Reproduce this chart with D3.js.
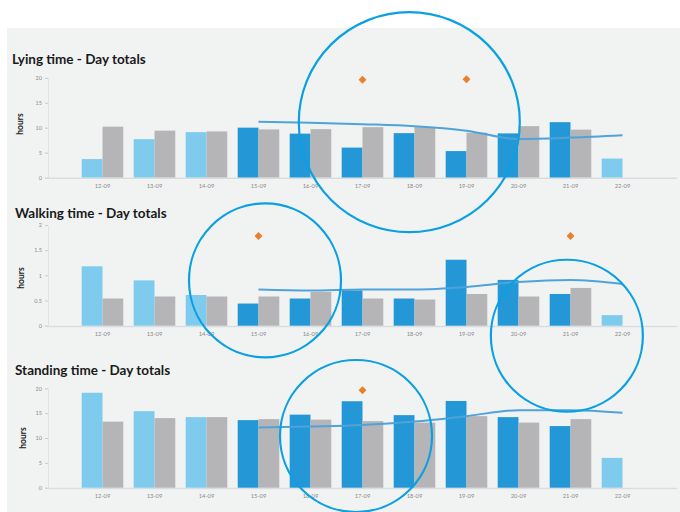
<!DOCTYPE html>
<html>
<head>
<meta charset="utf-8">
<script src="https://cdn.jsdelivr.net/npm/d3@7"></script>
<style>
  html, body { margin: 0; padding: 0; background: #ffffff; }
  svg { display: block; }
</style>
</head>
<body>
<div id="chart"></div>
<script>
// ---------- data ----------
const categories = ["12-09","13-09","14-09","15-09","16-09","17-09","18-09","19-09","20-09","21-09","22-09"];
const dayShade = ["light","light","light","dark","dark","dark","dark","dark","dark","dark","light"];
const trendCategories = ["15-09","16-09","17-09","18-09","19-09","20-09","21-09","22-09"];

const lyingDay   = [3.7, 7.7, 9.1, 10.0, 8.8, 6.0, 8.9, 5.3, 8.85, 11.1, 3.8];
const lyingRef   = [10.2, 9.4, 9.25, 9.65, 9.7, 10.1, 10.1, 9.0, 10.3, 9.6, null];
const lyingTrend = [11.2, 11.0, 10.7, 10.3, 9.4, 7.7, 8.0, 8.5];
const lyingAlertCats = ["17-09","19-09"];
const lyingAlertVals = [19.6, 19.7];
const lyingTicks = [0, 5, 10, 15, 20];

const walkingDay   = [1.18, 0.90, 0.61, 0.44, 0.54, 0.70, 0.54, 1.31, 0.91, 0.63, 0.21];
const walkingRef   = [0.54, 0.58, 0.58, 0.58, 0.67, 0.54, 0.52, 0.63, 0.58, 0.75, null];
const walkingTrend = [0.72, 0.70, 0.72, 0.72, 0.77, 0.87, 0.91, 0.83];
const walkingAlertCats = ["15-09","21-09"];
const walkingAlertVals = [1.78, 1.78];
const walkingTicks = [0, 0.5, 1, 1.5, 2];

const standingDay   = [19.1, 15.4, 14.2, 13.6, 14.7, 17.4, 14.6, 17.45, 14.2, 12.4, 6.0];
const standingRef   = [13.3, 14.0, 14.2, 13.8, 13.7, 13.4, 13.1, 14.4, 13.1, 13.8, null];
const standingTrend = [12.1, 12.3, 12.6, 13.3, 14.4, 15.6, 15.6, 15.1];
const standingAlertCats = ["17-09"];
const standingAlertVals = [19.6];
const standingTicks = [0, 5, 10, 15, 20];

// annotation circles: panel index, fractional category position, value on that panel's axis
const circlePanels = [0, 1, 1, 2];
const circlePos    = [5.9, 3.125, 8.93, 4.875];
const circleVals   = [11.1, 0.9, -0.2, 10.4];
const circleRx     = [110.5, 76, 76, 76];
const circleRy     = [110, 77, 76, 76];

// ---------- layout ----------
const W = 680, H = 512;
const colors = {
  dark: "#2497d6", light: "#7fcbee", ref: "#b5b5b8", trend: "#4fa3d9",
  alert: "#e9802c", circle: "#0aa0e2", bg: "#f1f3f3"
};

const svg = d3.select("#chart").append("svg").attr("width", W).attr("height", H);
svg.append("rect").attr("x", 0).attr("y", 0).attr("width", W).attr("height", H).attr("fill", "#fff");
svg.append("rect").attr("x", 7).attr("y", 28).attr("width", W - 7).attr("height", H - 28).attr("fill", colors.bg);

const x = d3.scaleBand().domain(categories).range([76.5, 648.5]).paddingInner(0.2).paddingOuter(0.1);
const half = x.bandwidth() / 2;
const cx = c => x(c) + half;
const posScale = d3.scaleLinear().domain([0, categories.length - 1]).range([cx(categories[0]), cx(categories[categories.length - 1])]);

const panels = [
  { title: "Lying time - Day totals", titleX: 12, titleY: 64, day: lyingDay, ref: lyingRef, trend: lyingTrend,
    alertCats: lyingAlertCats, alertVals: lyingAlertVals, ticks: lyingTicks, max: 20, y0: 177.5, y1: 77.8, hoursY: 124, hoursX: 23 },
  { title: "Walking time - Day totals", titleX: 15, titleY: 218, day: walkingDay, ref: walkingRef, trend: walkingTrend,
    alertCats: walkingAlertCats, alertVals: walkingAlertVals, ticks: walkingTicks, max: 2, y0: 325.7, y1: 225, hoursY: 278, hoursX: 24 },
  { title: "Standing time - Day totals", titleX: 15, titleY: 375, day: standingDay, ref: standingRef, trend: standingTrend,
    alertCats: standingAlertCats, alertVals: standingAlertVals, ticks: standingTicks, max: 20, y0: 487.7, y1: 388.3, hoursY: 438, hoursX: 26 }
];

const yScales = [];

panels.forEach((p, pi) => {
  const g = svg.append("g");
  const y = d3.scaleLinear().domain([0, p.max]).range([p.y0, p.y1]);
  yScales.push(y);

  // title
  g.append("text").attr("x", p.titleX).attr("y", p.titleY)
    .attr("font-family", "Lato, 'Open Sans', sans-serif").attr("font-weight", "bold")
    .attr("font-size", 13.5).attr("fill", "#1a1a1a").text(p.title);

  // y label
  g.append("text").attr("transform", `translate(${p.hoursX},${p.hoursY}) rotate(-90)`)
    .attr("text-anchor", "middle").attr("font-family", "Lato, sans-serif").attr("font-weight", "bold")
    .attr("font-size", 8.5).attr("fill", "#222").text("hours");

  // y axis
  const yAxis = d3.axisLeft(y).tickValues(p.ticks).tickSize(3).tickPadding(3)
    .tickFormat(d => d3.format("~g")(d));
  const ya = g.append("g").attr("transform", "translate(48,0)").call(yAxis);
  ya.select(".domain").attr("stroke", "#e0e3e4").attr("stroke-width", 1);
  ya.selectAll(".tick line").attr("stroke", "#c9cccd");
  ya.selectAll(".tick text").attr("font-size", 5.5).attr("fill", "#8a8a8a").attr("font-family", "Lato, sans-serif");

  // x axis
  const xAxis = d3.axisBottom(x).tickSize(0).tickPadding(6);
  const xa = g.append("g").attr("transform", `translate(0,${p.y0 + 0.5})`).call(xAxis);
  xa.select(".domain").remove();
  xa.selectAll(".tick text").attr("font-size", 5.8).attr("fill", "#8a8a8a").attr("font-family", "Lato, sans-serif");
  g.append("line").attr("x1", 48).attr("x2", 677).attr("y1", p.y0 + 0.8).attr("y2", p.y0 + 0.8)
    .attr("stroke", "#dadddf").attr("stroke-width", 1.5);

  // bars: day (blue)
  g.selectAll(".day").data(categories).join("rect")
    .attr("x", c => x(c)).attr("width", half)
    .attr("y", (c, i) => y(p.day[i])).attr("height", (c, i) => y(0) - y(p.day[i]))
    .attr("fill", (c, i) => colors[dayShade[i]]);

  // bars: reference (gray)
  g.selectAll(".ref").data(categories.filter((c, i) => p.ref[i] != null)).join("rect")
    .attr("x", c => x(c) + half).attr("width", half)
    .attr("y", c => y(p.ref[categories.indexOf(c)]))
    .attr("height", c => y(0) - y(p.ref[categories.indexOf(c)]))
    .attr("fill", colors.ref);

  // trend line
  const line = d3.line().x((d, i) => cx(trendCategories[i])).y(d => y(d)).curve(d3.curveMonotoneX);
  g.append("path").datum(p.trend).attr("d", line).attr("fill", "none")
    .attr("stroke", colors.trend).attr("stroke-width", 2);

  // alert diamonds
  const diamond = d3.symbol().type(d3.symbolDiamond2).size(40);
  g.selectAll(".alert").data(p.alertCats).join("path")
    .attr("transform", (c, i) => `translate(${cx(c)},${y(p.alertVals[i])})`)
    .attr("d", diamond).attr("fill", colors.alert);
});

// annotation circles
svg.selectAll(".ann").data(circlePanels).join("ellipse")
  .attr("cx", (d, i) => posScale(circlePos[i]))
  .attr("cy", (d, i) => yScales[d](circleVals[i]))
  .attr("rx", (d, i) => circleRx[i])
  .attr("ry", (d, i) => circleRy[i])
  .attr("fill", "none").attr("stroke", colors.circle).attr("stroke-width", 2.2);
</script>
</body>
</html>
